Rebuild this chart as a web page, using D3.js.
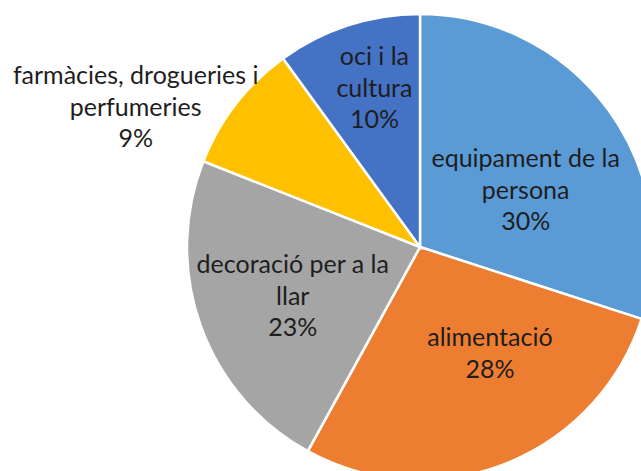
<!DOCTYPE html>
<html>
<head>
<meta charset="utf-8">
<style>
body { margin: 0; background: #fff; }
.label { font-family: Lato, "Open Sans", sans-serif; font-size: 25px; fill: #1e1e1e; text-anchor: middle; }
.slice { stroke: #fff; stroke-width: 2.5px; }
</style>
</head>
<body>
<svg width="641" height="471"></svg>
<script src="https://cdn.jsdelivr.net/npm/d3@7/dist/d3.min.js"></script>
<script>

// categories, in drawing order (clockwise from 12 o'clock)
var categories = ["equipament de la persona", "alimentació", "decoració per a la llar",
                  "farmàcies, drogueries i perfumeries", "oci i la cultura"];
// label lines as they wrap in the chart
var labelLines = [["equipament de la", "persona"], ["alimentació"], ["decoració per a la", "llar"],
                  ["farmàcies, drogueries i", "perfumeries"], ["oci i la", "cultura"]];
var values = [30, 28, 23, 9, 10];
var colors = ["#5B9BD5", "#ED7D31", "#A5A5A5", "#FFC000", "#4472C4"];

// label placement: distance from centre (fraction of radius) and angle nudge (deg)
var labelRadius = [0.515, 0.545, 0.585, 1.36, 0.71];
var labelNudge = [7.7, -11.8, -1.2, -11.6, 2];

var svg = d3.select("svg"),
    cx = 420, cy = 247, radius = 233;

var g = svg.append("g").attr("transform", "translate(" + cx + "," + cy + ")");

var pie = d3.pie().sort(null).value(function(d) { return d; });
var arcs = pie(values);

var arc = d3.arc().innerRadius(0).outerRadius(radius);

g.selectAll(".slice")
  .data(arcs)
  .enter().append("path")
  .attr("class", "slice")
  .attr("d", arc)
  .attr("fill", function(d, i) { return colors[i]; });

var total = d3.sum(values);
var lineH = 31.5;

var lbl = g.selectAll(".label")
  .data(arcs)
  .enter().append("text")
  .attr("class", "label")
  .attr("transform", function(d, i) {
    var a = (d.startAngle + d.endAngle) / 2 + labelNudge[i] * Math.PI / 180;
    var r = radius * labelRadius[i];
    return "translate(" + (r * Math.sin(a)) + "," + (-r * Math.cos(a)) + ")";
  });

lbl.each(function(d, i) {
  var lines = labelLines[i].concat([Math.round(d.value / total * 100) + "%"]);
  var t = d3.select(this);
  var y0 = -(lines.length - 1) * lineH / 2;
  lines.forEach(function(s, k) {
    t.append("tspan").attr("x", 0).attr("y", y0 + k * lineH).attr("dy", "0.35em").text(s);
  });
});

</script>
</body>
</html>
